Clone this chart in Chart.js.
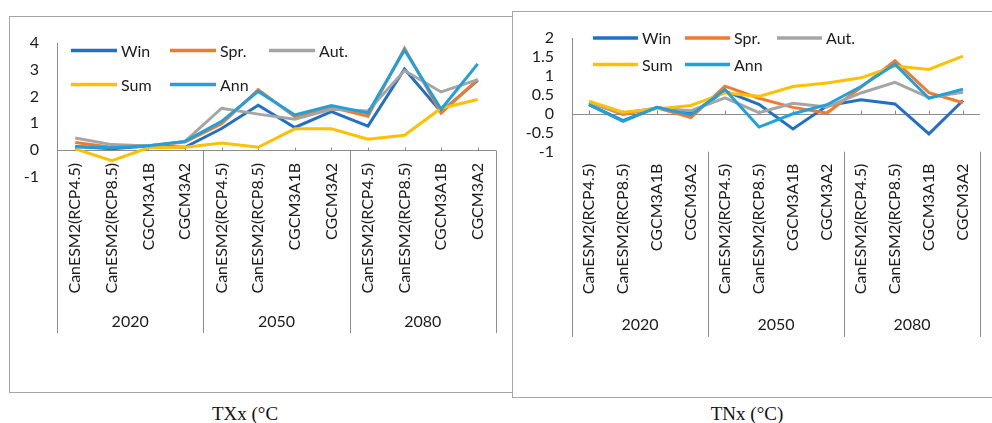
<!DOCTYPE html>
<html>
<head>
<meta charset="utf-8">
<script src="https://cdn.jsdelivr.net/npm/chart.js@4.4.1/dist/chart.umd.min.js"></script>
<style>
  body { margin: 0; background: #fff; width: 992px; height: 423px; position: relative; overflow: hidden; }
  .frame { position: absolute; border: 1px solid #a6a6a6; background: #fff; box-sizing: border-box; }
  #frameTXx { left: 9px; top: 16px; width: 510px; height: 377px; }
  #frameTNx { left: 512px; top: 11px; width: 482px; height: 387px; }
  .frame canvas { position: absolute; left: 0; top: 0; }
  .caption { position: absolute; top: 403px; font-family: 'Liberation Serif', 'Times New Roman', serif; font-size: 19px; color: #111; transform: translateX(-50%); white-space: nowrap; }
</style>
</head>
<body>
<div class="frame" id="frameTXx"><canvas id="chartTXx" width="500" height="374"></canvas></div>
<div class="frame" id="frameTNx"><canvas id="chartTNx" width="478" height="384"></canvas></div>
<div class="caption" style="left:245px">TXx (°C</div>
<div class="caption" style="left:747px">TNx (°C)</div>

<script>
// Categories: four model runs inside each future period
const models = ['CanESM2(RCP4.5)', 'CanESM2(RCP8.5)', 'CGCM3A1B', 'CGCM3A2'];
const periods = ['2020', '2050', '2080'];
const categories = periods.flatMap(() => models);

const seriesNames = ['Win', 'Spr.', 'Aut.', 'Sum', 'Ann'];
const seriesColors = ['#2270C4', '#F07B2E', '#A5A5A5', '#FFC000', '#22A0DC'];

// TXx change (°C)
const txxWin = [0.13, 0.05, 0.15, 0.1, 0.8, 1.67, 0.84, 1.43, 0.89, 3.03, 1.42, 2.6];
const txxSpr = [0.28, 0.1, 0.16, 0.3, 0.98, 2.25, 1.25, 1.6, 1.26, 3.8, 1.38, 2.64];
const txxAut = [0.45, 0.2, 0.15, 0.32, 1.56, 1.34, 1.15, 1.52, 1.46, 2.97, 2.17, 2.63];
const txxSum = [0.04, -0.4, 0.08, 0.1, 0.26, 0.1, 0.79, 0.79, 0.4, 0.55, 1.56, 1.89];
const txxAnn = [0.12, 0.08, 0.16, 0.32, 1.07, 2.19, 1.31, 1.66, 1.38, 3.74, 1.52, 3.22];

// TNx change (°C)
const tnxWin = [0.24, -0.18, 0.17, 0.0, 0.6, 0.25, -0.4, 0.21, 0.37, 0.26, -0.53, 0.35];
const tnxSpr = [0.3, -0.02, 0.16, -0.1, 0.73, 0.41, 0.17, 0.02, 0.7, 1.4, 0.56, 0.29];
const tnxAut = [0.28, 0.02, 0.15, 0.08, 0.42, 0.03, 0.28, 0.18, 0.55, 0.83, 0.43, 0.57];
const tnxSum = [0.33, 0.04, 0.13, 0.22, 0.55, 0.46, 0.72, 0.81, 0.95, 1.26, 1.17, 1.52];
const tnxAnn = [0.24, -0.2, 0.17, -0.03, 0.64, -0.35, 0.0, 0.24, 0.72, 1.31, 0.41, 0.65];

const FONT = { family: 'Lato, "Liberation Sans", sans-serif', size: 16, lineHeight: 1 };
const TEXT_COLOR = '#1c1c1c';
const AXIS_COLOR = '#8c8c8c';

// Axis lines, period dividers, period labels and the in-plot legend
const groupAxis = {
    id: 'groupAxis',
    beforeDatasetsDraw(chart, args, opts) {
        const { ctx, chartArea, scales: { x, y } } = chart;
        const zeroY = Math.round(y.getPixelForValue(0)) + 0.5;
        const half = (x.getPixelForValue(1) - x.getPixelForValue(0)) / 2;
        ctx.save();
        ctx.strokeStyle = AXIS_COLOR;
        ctx.lineWidth = 1;
        ctx.beginPath();
        const ax = Math.round(chartArea.left) + 0.5;
        ctx.moveTo(ax, chartArea.top);
        ctx.lineTo(ax, opts.bottom);
        ctx.moveTo(chartArea.left, zeroY);
        ctx.lineTo(chartArea.right, zeroY);
        categories.forEach((c, i) => {
            const px = Math.round(x.getPixelForValue(i)) + 0.5;
            ctx.moveTo(px, zeroY);
            ctx.lineTo(px, zeroY - opts.tick);
        });
        const top = opts.dividerFromZero ? zeroY : chartArea.bottom;
        periods.forEach((p, g) => {
            const px = Math.round(x.getPixelForValue((g + 1) * models.length - 1) + half) + 0.5;
            ctx.moveTo(px, top);
            ctx.lineTo(px, opts.bottom);
        });
        ctx.stroke();
        ctx.restore();
    },
    afterDraw(chart, args, opts) {
        const { ctx, chartArea, scales: { x } } = chart;
        ctx.save();
        ctx.font = `${FONT.size}px ${FONT.family}`;
        ctx.fillStyle = TEXT_COLOR;
        ctx.textAlign = 'center';
        ctx.textBaseline = 'middle';
        periods.forEach((p, g) => {
            const first = x.getPixelForValue(g * models.length);
            const last = x.getPixelForValue((g + 1) * models.length - 1);
            ctx.fillText(p, (first + last) / 2, opts.groupY);
        });

        const lg = opts.legend;
        ctx.textAlign = 'left';
        chart.data.datasets.forEach((ds, i) => {
            const lx = chartArea.left + lg.x + (i % 3) * lg.colStep;
            const ly = chartArea.top + lg.y + Math.floor(i / 3) * lg.rowStep;
            ctx.strokeStyle = ds.borderColor;
            ctx.lineWidth = 3.5;
            ctx.beginPath();
            ctx.moveTo(lx, ly);
            ctx.lineTo(lx + lg.lineLen, ly);
            ctx.stroke();
            ctx.fillStyle = TEXT_COLOR;
            ctx.fillText(ds.label, lx + lg.lineLen + 4, ly + 1);
        });
        ctx.restore();
    }
};

function makeDatasets(values) {
    return values.map((data, i) => ({
        label: seriesNames[i],
        data: data,
        borderColor: seriesColors[i],
        backgroundColor: seriesColors[i],
        borderWidth: 3,
        pointRadius: 0,
        tension: 0,
        order: values.length - i
    }));
}

function drawPanel(canvasId, values, yRange, layout) {
    const ctx = document.getElementById(canvasId).getContext('2d');
    return new Chart(ctx, {
        type: 'line',
        data: { labels: categories, datasets: makeDatasets(values) },
        options: {
            responsive: false,
            animation: false,
            events: [],
            layout: { padding: layout.padding },
            scales: {
                x: {
                    position: layout.xPosition,
                    offset: true,
                    grid: { display: false, drawTicks: false },
                    border: { display: false },
                    ticks: {
                        autoSkip: false, minRotation: 90, maxRotation: 90,
                        padding: layout.labelPad, font: FONT, color: TEXT_COLOR
                    },
                    afterFit: layout.xHeight ? (s) => { s.height = layout.xHeight; } : undefined
                },
                y: {
                    min: yRange.min, max: yRange.max,
                    grid: { display: false, drawTicks: false },
                    border: { display: false },
                    ticks: {
                        stepSize: yRange.step, autoSkip: false, padding: 18,
                        font: FONT, color: TEXT_COLOR,
                        callback: (value) => String(value)
                    },
                    afterFit: (s) => { s.width = layout.yWidth; }
                }
            },
            plugins: {
                legend: { display: false },
                tooltip: { enabled: false },
                groupAxis: layout.axis
            }
        },
        plugins: [groupAxis]
    });
}

document.addEventListener('DOMContentLoaded', function () {
    drawPanel('chartTXx', [txxWin, txxSpr, txxAut, txxSum, txxAnn], { min: -1, max: 4, step: 1 }, {
        padding: { left: 0, top: 24.7, right: 14, bottom: 214.3 },
        xPosition: { y: 0 },
        labelPad: 13,
        yWidth: 47,
        axis: {
            bottom: 316, tick: 3, dividerFromZero: true, groupY: 305,
            legend: { x: 14, y: 7.6, colStep: 99, rowStep: 34, lineLen: 46 }
        }
    });

    drawPanel('chartTNx', [tnxWin, tnxSpr, tnxAut, tnxSum, tnxAnn], { min: -1, max: 2, step: 0.5 }, {
        padding: { left: 0, top: 24.7, right: 1, bottom: 0 },
        xPosition: 'bottom',
        xHeight: 244.3,
        labelPad: 12,
        yWidth: 59,
        axis: {
            bottom: 325, tick: 4, dividerFromZero: false, groupY: 313,
            legend: { x: 21, y: 0, colStep: 92, rowStep: 26.6, lineLen: 45 }
        }
    });
});
</script>
</body>
</html>
